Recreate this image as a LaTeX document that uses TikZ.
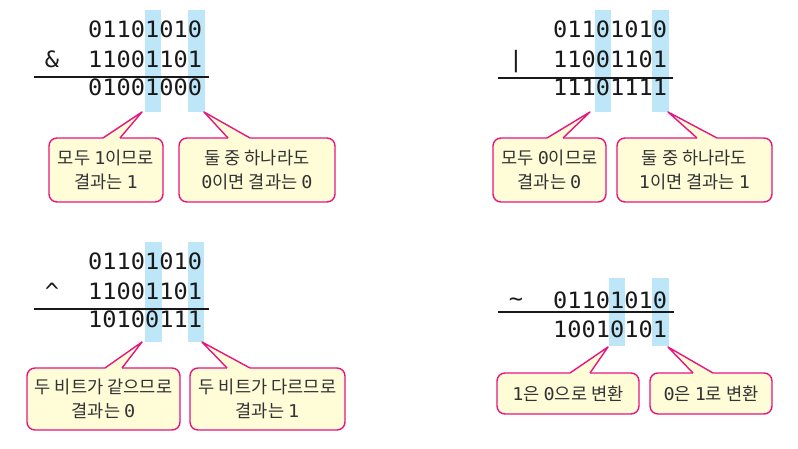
\documentclass[tikz,border=0pt]{standalone}
\usepackage{fontspec}
\setmainfont{Noto Sans CJK KR}
\newfontfamily\bitfont[FakeStretch=1.05]{DejaVu Sans Mono}
\usetikzlibrary{calc}
\definecolor{hlblue}{HTML}{BDE6F9}
\definecolor{notefill}{HTML}{FFFCD8}
\definecolor{noteline}{HTML}{E6157F}
\definecolor{notetext}{HTML}{333333}
\newcommand{\bit}[1]{{\bitfont #1}}
% pointer of a note: node, left and right offset of its base, tip
\newcommand{\notetip}[4]{%
  \fill[notefill] ($(#1.north west)+(#2,1.6)$) -- ($(#1.north west)+(#2,0)$) -- (#4)
    -- ($(#1.north west)+(#3,0)$) -- ($(#1.north west)+(#3,1.6)$) -- cycle;
  \draw[noteline, line width=1.4pt, line join=round] ($(#1.north west)+(#2,0)$) -- (#4) -- ($(#1.north west)+(#3,0)$);}
\begin{document}
\begin{tikzpicture}[x=1pt,y=-1pt]
    \tikzstyle{row}=[anchor=base west, inner sep=0pt, text=black!90, font=\fontsize{22.5}{28}\bitfont]
    \tikzstyle{op}=[anchor=base, inner sep=0pt, text=black!90, font=\fontsize{22.5}{28}\bitfont]
    \tikzstyle{rule}=[line width=1.5pt, black!90]
    \tikzstyle{note}=[draw=noteline, fill=notefill, line width=1.4pt, rounded corners=8pt, outer sep=0pt,
      align=center, text=notetext, font=\fontsize{17.6}{23.5}\selectfont]
    \useasboundingbox (0,0) rectangle (798,449);

    % AND
    \fill[hlblue] (145,10) rectangle (161,112);
    \fill[hlblue] (188,10) rectangle (205,112);
    \node[row] (a1) at (88,38) {01101010};
    \node[row] (a2) at (88,67.5) {11001101};
    \node[row] (a3) at (88,96) {01001000};
    \node[op] (aop) at (52,67.5) {\&};
    \draw[rule] (34,77) -- (209,77);
    \node[note, minimum width=114pt, minimum height=64pt] (an1) at (106,170) {모두 \bit{1}이므로\\결과는 \bit{1}};
    \node[note, minimum width=156pt, minimum height=64pt] (an2) at (257,170) {둘 중 하나라도\\\bit{0}이면 결과는 \bit{0}};
    \coordinate (at1) at (142,112);
    \coordinate (at2) at (204,112);
    \notetip{an1}{54}{71}{at1}
    \notetip{an2}{49}{71}{at2}

    % OR
    \fill[hlblue] (595,10) rectangle (611,112);
    \fill[hlblue] (652,10) rectangle (669,112);
    \node[row] (o1) at (553,38) {01101010};
    \node[row] (o2) at (553,67.5) {11001101};
    \node[row] (o3) at (553,96) {11101111};
    \node[op] (oop) at (516,67.5) {|};
    \draw[rule] (498,78) -- (673,78);
    \node[note, minimum width=113pt, minimum height=64pt] (on1) at (549.5,170) {모두 \bit{0}이므로\\결과는 \bit{0}};
    \node[note, minimum width=155pt, minimum height=64pt] (on2) at (694.5,170) {둘 중 하나라도\\\bit{1}이면 결과는 \bit{1}};
    \coordinate (ot1) at (590,112);
    \coordinate (ot2) at (668,112);
    \notetip{on1}{54}{70}{ot1}
    \notetip{on2}{80}{100}{ot2}

    % XOR
    \fill[hlblue] (145,242) rectangle (162,342);
    \fill[hlblue] (188,242) rectangle (204,342);
    \node[row] (x1) at (88,269.5) {01101010};
    \node[row] (x2) at (88,299.5) {11001101};
    \node[row] (x3) at (88,327.5) {10100111};
    \node[op] (xop) at (52,299.5) {\^{}};
    \draw[rule] (34,309) -- (209,309);
    \node[note, minimum width=153pt, minimum height=62pt] (xn1) at (103.5,399) {두 비트가 같으므로\\결과는 \bit{0}};
    \node[note, minimum width=155pt, minimum height=62pt] (xn2) at (267.5,399) {두 비트가 다르므로\\결과는 \bit{1}};
    \coordinate (xt1) at (142,342);
    \coordinate (xt2) at (202,342);
    \notetip{xn1}{78}{95}{xt1}
    \notetip{xn2}{37}{60}{xt2}

    % NOT
    \fill[hlblue] (609,278) rectangle (625,346);
    \fill[hlblue] (652,278) rectangle (669,346);
    \node[row] (n1) at (553,308) {01101010};
    \node[row] (n2) at (553,337) {10010101};
    \node[op] (nop) at (516,306) {\textasciitilde};
    \draw[rule] (498,312) -- (674,312);
    \node[note, minimum width=142pt, minimum height=41pt] (nn1) at (568,393.5) {\bit{1}은 \bit{0}으로 변환};
    \node[note, minimum width=122pt, minimum height=41pt] (nn2) at (711,393.5) {\bit{0}은 \bit{1}로 변환};
    \coordinate (nt1) at (608,347);
    \coordinate (nt2) at (668,347);
    \notetip{nn1}{73}{93}{nt1}
    \notetip{nn2}{43}{63}{nt2}
\end{tikzpicture}
\end{document}
